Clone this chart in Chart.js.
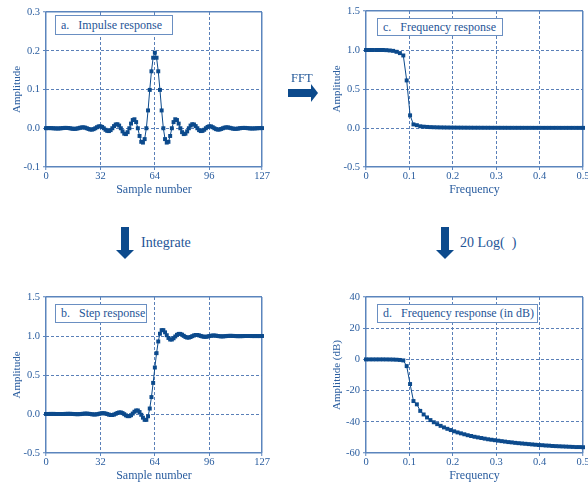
<!DOCTYPE html>
<html>
<head>
<meta charset="utf-8">
<title>Windowed-sinc filter responses</title>
<script src="https://cdn.jsdelivr.net/npm/chart.js@4.4.1/dist/chart.umd.min.js"></script>
<style>
  body { margin: 0; background: #fff; }
  #figure {
    position: relative; width: 588px; height: 486px; overflow: hidden;
    font-family: "Liberation Serif", "Times New Roman", serif; color: #1f5597;
  }
  #figure canvas { position: absolute; }
  .panel-label {
    position: absolute; box-sizing: border-box; padding-left: 5px;
    display: flex; align-items: center;
    font-size: 12px; white-space: pre; background: #fff;
    border: 1.5px solid #6a8fc2; color: #1f5597;
  }
  .step-label { position: absolute; white-space: pre; color: #1f5597; }
  svg.arrow { position: absolute; overflow: visible; }
</style>
</head>
<body>
<div id="figure">
  <canvas id="chartA" width="280" height="200" style="left:0;top:0"></canvas>
  <canvas id="chartC" width="288" height="200" style="left:300px;top:0"></canvas>
  <canvas id="chartB" width="280" height="201" style="left:0;top:285px"></canvas>
  <canvas id="chartD" width="288" height="201" style="left:300px;top:285px"></canvas>

  <div class="panel-label" style="left:55px;top:15px;width:118px;height:20px">a.   Impulse response</div>
  <div class="panel-label" style="left:377px;top:18px;width:126px;height:18px">c.   Frequency response</div>
  <div class="panel-label" style="left:55px;top:304px;width:92px;height:19px">b.   Step response</div>
  <div class="panel-label" style="left:377px;top:304px;width:161px;height:19px">d.   Frequency response (in dB)</div>

  <!-- arrows between the panels -->
  <div class="step-label" style="left:291px;top:71px;font-size:12.5px;line-height:14px">FFT</div>
  <svg class="arrow" style="left:286px;top:82px" width="34" height="22">
    <rect x="2" y="7" width="24" height="8" fill="#0c4a8c"/>
    <polygon points="25,2 32,11 25,20" fill="#0c4a8c"/>
  </svg>
  <svg class="arrow" style="left:114px;top:226px" width="22" height="35">
    <rect x="7" y="1" width="8" height="24" fill="#0c4a8c"/>
    <polygon points="2,24 20,24 11,33" fill="#0c4a8c"/>
  </svg>
  <div class="step-label" style="left:141px;top:235px;font-size:14px;line-height:16px">Integrate</div>
  <svg class="arrow" style="left:434px;top:226px" width="22" height="35">
    <rect x="7" y="1" width="8" height="24" fill="#0c4a8c"/>
    <polygon points="2,24 20,24 11,33" fill="#0c4a8c"/>
  </svg>
  <div class="step-label" style="left:460px;top:235px;font-size:14px;line-height:16px">20 Log(  )</div>
</div>

<script>
// ------------------------------------------------------------
// Data
// ------------------------------------------------------------
const sampleTicks = [0, 32, 64, 96, 127];
const freqTicks = [0, 0.1, 0.2, 0.3, 0.4, 0.5];
const impulseTicks = [-0.1, 0, 0.1, 0.2, 0.3];
const stepTicks = [-0.5, 0, 0.5, 1, 1.5];
const ampTicks = [-0.5, 0, 0.5, 1, 1.5];
const dbTicks = [-60, -40, -20, 0, 20, 40];

// FFT length: frequency bin k sits at k / fftSize
const fftSize = 128;

// a. impulse response, samples 0..127
const impulse = [
  0.0002, 0.0004, 0.0004, 0.0003, 0, -0.0003, -0.0005, -0.0006, -0.0004, 0,
  0.0005, 0.0009, 0.0009, 0.0006, 0, -0.0008, -0.0014, -0.0015, -0.0010, 0,
  0.0012, 0.0021, 0.0023, 0.0016, 0, -0.0018, -0.0033, -0.0035, -0.0023, 0,
  0.0027, 0.0048, 0.0051, 0.0034, 0, -0.0039, -0.0068, -0.0073, -0.0048, 0,
  0.0056, 0.0097, 0.0104, 0.0069, 0, -0.0080, -0.0140, -0.0151, -0.0101, 0,
  0.0120, 0.0212, 0.0232, 0.0159, 0, -0.0199, -0.0350, -0.0370, -0.0280, 0,
  0.0460, 0.0990, 0.1470, 0.1820, 0.1950, 0.1820, 0.1470, 0.0990, 0.0460, 0,
  -0.0280, -0.0370, -0.0350, -0.0199, 0, 0.0159, 0.0232, 0.0212, 0.0120, 0,
  -0.0101, -0.0151, -0.0140, -0.0080, 0, 0.0069, 0.0104, 0.0097, 0.0056, 0,
  -0.0048, -0.0073, -0.0068, -0.0039, 0, 0.0034, 0.0051, 0.0048, 0.0027, 0,
  -0.0023, -0.0035, -0.0033, -0.0018, 0, 0.0016, 0.0023, 0.0021, 0.0012, 0,
  -0.0010, -0.0015, -0.0014, -0.0008, 0, 0.0006, 0.0009, 0.0009, 0.0005, 0,
  -0.0004, -0.0006, -0.0005, -0.0003, 0, 0.0003, 0.0004, 0.0004
];

// b. step response, samples 0..127
const stepResp = [
  0.0002, 0.0006, 0.0010, 0.0013, 0.0013, 0.0010, 0.0005, -0.0001, -0.0005, -0.0005,
  0.0000, 0.0009, 0.0018, 0.0024, 0.0024, 0.0016, 0.0002, -0.0013, -0.0023, -0.0023,
  -0.0011, 0.0010, 0.0033, 0.0049, 0.0049, 0.0031, -0.0002, -0.0037, -0.0060, -0.0060,
  -0.0033, 0.0015, 0.0066, 0.0100, 0.0100, 0.0061, -0.0007, -0.0080, -0.0128, -0.0128,
  -0.0072, 0.0025, 0.0129, 0.0198, 0.0198, 0.0118, -0.0022, -0.0173, -0.0274, -0.0274,
  -0.0154, 0.0058, 0.0290, 0.0449, 0.0449, 0.0250, -0.0100, -0.0470, -0.0750, -0.0750,
  -0.0290, 0.0700, 0.2170, 0.3990, 0.5960, 0.7800, 0.9300, 1.0290, 1.0750, 1.0750,
  1.0470, 1.0100, 0.9750, 0.9550, 0.9550, 0.9710, 0.9940, 1.0150, 1.0270, 1.0270,
  1.0170, 1.0020, 0.9880, 0.9800, 0.9800, 0.9870, 0.9980, 1.0070, 1.0130, 1.0130,
  1.0080, 1.0010, 0.9940, 0.9900, 0.9900, 0.9930, 0.9990, 1.0030, 1.0060, 1.0060,
  1.0040, 1.0000, 0.9970, 0.9950, 0.9950, 0.9970, 0.9990, 1.0010, 1.0020, 1.0020,
  1.0010, 1.0000, 0.9980, 0.9980, 0.9980, 0.9980, 0.9990, 1.0000, 1.0000, 1.0000,
  1.0000, 0.9990, 0.9990, 0.9990, 0.9990, 0.9990, 0.9990, 1.0000
];

// c. frequency response (linear), bins 0..64
const freqAmp = [
  1, 1, 1, 1, 1, 1, 0.998, 0.994, 0.989, 0.977,
  0.96, 0.93, 0.61, 0.162, 0.046, 0.036, 0.022, 0.017, 0.0138, 0.0113,
  0.0097, 0.0084, 0.0074, 0.0066, 0.0060, 0.0054, 0.0050, 0.0046, 0.0043, 0.0040,
  0.0037, 0.0035, 0.0033, 0.0032, 0.0030, 0.0029, 0.0028, 0.0027, 0.0026, 0.0025,
  0.0024, 0.0023, 0.0022, 0.0022, 0.0021, 0.0021, 0.0020, 0.0020, 0.0019, 0.0019,
  0.0018, 0.0018, 0.0018, 0.0017, 0.0017, 0.0017, 0.0017, 0.0016, 0.0016, 0.0016,
  0.0016, 0.0016, 0.0015, 0.0015, 0.0015
];

// d. frequency response in dB, bins 0..64
const freqDb = [
  0, 0, 0, 0, 0, 0, -0.02, -0.05, -0.1, -0.2,
  -0.35, -0.65, -4.3, -15.8, -26.7, -28.8, -33.0, -35.3, -37.2, -38.9,
  -40.3, -41.5, -42.6, -43.6, -44.5, -45.3, -46.1, -46.8, -47.4, -48.0,
  -48.6, -49.1, -49.6, -50.0, -50.4, -50.8, -51.2, -51.5, -51.8, -52.1,
  -52.4, -52.7, -53.0, -53.2, -53.5, -53.7, -53.9, -54.1, -54.3, -54.5,
  -54.7, -54.9, -55.0, -55.2, -55.3, -55.5, -55.6, -55.7, -55.8, -55.9,
  -56.0, -56.1, -56.2, -56.2, -56.3
];

// ------------------------------------------------------------
// Styling
// ------------------------------------------------------------
const dataColor = '#0c4a8c';
const frameColor = '#5b85bd';
const gridColor = '#5a80b8';
const textColor = '#2a5d9f';
const serif = '"Liberation Serif", "Times New Roman", serif';

const isEdge = ctx => ctx.index === 0 || ctx.index === ctx.scale.ticks.length - 1;

function axisGrid() {
  return {
    grid: {
      color: ctx => isEdge(ctx) ? frameColor : gridColor,
      lineWidth: ctx => isEdge(ctx) ? 1.5 : 1,
      drawTicks: true,
      tickLength: 3,
      tickColor: frameColor,
      tickWidth: 1
    },
    border: { display: false, dash: ctx => isEdge(ctx) ? [] : [3, 2] }
  };
}

/**
 * Build one panel. Plot area is pinned by fixing the axis box sizes.
 */
function makePanel(id, cfg) {
  const points = cfg.values.map((y, i) => ({ x: cfg.xOf(i), y }));

  return new Chart(document.getElementById(id), {
    type: 'line',
    data: {
      datasets: [{
        data: points,
        borderColor: dataColor,
        backgroundColor: dataColor,
        borderWidth: 1,
        pointStyle: 'rect',
        pointRadius: 2.8,
        pointBorderWidth: 0,
        pointBackgroundColor: dataColor,
        tension: 0,
        clip: 3
      }]
    },
    options: {
      responsive: false,
      animation: false,
      devicePixelRatio: 1,
      events: [],
      layout: { padding: { top: cfg.padTop, right: cfg.padRight, left: 0, bottom: 0 } },
      plugins: { legend: { display: false }, tooltip: { enabled: false } },
      scales: {
        x: {
          type: 'linear',
          min: cfg.xTicks[0],
          max: cfg.xTicks[cfg.xTicks.length - 1],
          afterBuildTicks: s => { s.ticks = cfg.xTicks.map(v => ({ value: v })); },
          afterFit: s => { s.height = 33; s.paddingLeft = 0; s.paddingRight = 0; },
          ticks: {
            color: textColor, padding: 0, maxRotation: 0, autoSkip: false,
            font: { family: serif, size: 10.5 },
            callback: v => String(v)
          },
          title: {
            display: true, text: cfg.xTitle, color: textColor,
            font: { family: serif, size: 12 }, padding: { top: 0, bottom: 3 }
          },
          ...axisGrid()
        },
        y: {
          type: 'linear',
          min: cfg.yTicks[0],
          max: cfg.yTicks[cfg.yTicks.length - 1],
          afterBuildTicks: s => { s.ticks = cfg.yTicks.map(v => ({ value: v })); },
          afterFit: s => { s.width = cfg.yWidth; s.paddingTop = 0; s.paddingBottom = 0; },
          ticks: {
            color: textColor, padding: 3, autoSkip: false,
            font: { family: serif, size: 10.5 },
            callback: v => v.toFixed(cfg.yDecimals)
          },
          title: {
            display: true, text: cfg.yTitle, color: textColor,
            font: { family: serif, size: 11 }, padding: { top: cfg.yTitlePad, bottom: 0 }
          },
          ...axisGrid()
        }
      }
    }
  });
}

makePanel('chartA', {
  values: impulse, xOf: i => i, xTicks: sampleTicks, yTicks: impulseTicks, yDecimals: 1,
  xTitle: 'Sample number', yTitle: 'Amplitude',
  yWidth: 46, yTitlePad: 11, padTop: 12, padRight: 18
});

makePanel('chartB', {
  values: stepResp, xOf: i => i, xTicks: sampleTicks, yTicks: stepTicks, yDecimals: 1,
  xTitle: 'Sample number', yTitle: 'Amplitude',
  yWidth: 46, yTitlePad: 10.5, padTop: 12, padRight: 18
});

makePanel('chartC', {
  values: freqAmp, xOf: k => k / fftSize, xTicks: freqTicks, yTicks: ampTicks, yDecimals: 1,
  xTitle: 'Frequency', yTitle: 'Amplitude',
  yWidth: 66, yTitlePad: 30.5, padTop: 11, padRight: 5
});

makePanel('chartD', {
  values: freqDb, xOf: k => k / fftSize, xTicks: freqTicks, yTicks: dbTicks, yDecimals: 0,
  xTitle: 'Frequency', yTitle: 'Amplitude (dB)',
  yWidth: 66, yTitlePad: 31, padTop: 12, padRight: 5
});
</script>
</body>
</html>
